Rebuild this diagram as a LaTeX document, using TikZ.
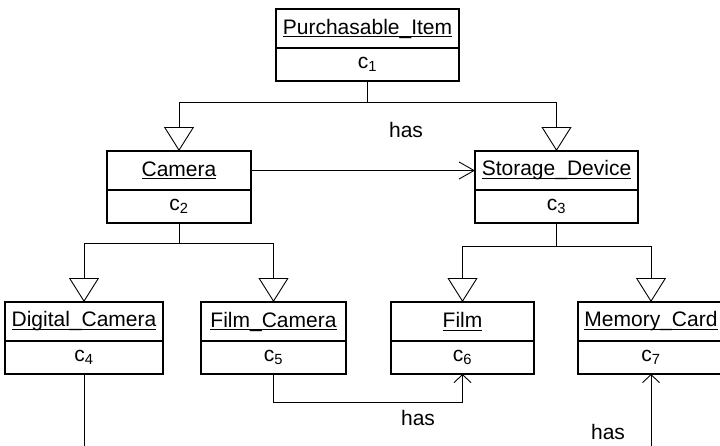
\documentclass[tikz,border=0pt]{standalone}
\usepackage{fontspec}
\setmainfont{Liberation Sans}
\usetikzlibrary{arrows.meta}
\newcommand\ulname[1]{\setbox0\hbox{#1}\rlap{\rule[-3pt]{\wd0}{1.1pt}}\box0}
\begin{document}
\begin{tikzpicture}[x=1pt,y=-1pt,
  namebox/.style={draw, line width=1.5pt, inner sep=0pt, outer sep=0pt, minimum height=39pt, font=\fontsize{21}{25}\selectfont},
  valbox/.style={draw, line width=1.5pt, inner sep=0pt, outer sep=0pt, minimum height=33pt, anchor=north, font=\fontsize{21}{25}\selectfont},
  lbl/.style={inner sep=0pt, font=\fontsize{21}{25}\selectfont},
  gen/.style={line width=0.9pt, -{Triangle[open, length=24pt, width=30pt, line width=0.9pt]}},
  assoctop/.style={line width=0.9pt, -{Straight Barb[length=15pt, width=17pt, line width=0.9pt]}},
  assoc/.style={line width=0.9pt, -{Straight Barb[length=8pt, width=17pt, line width=0.9pt]}}]
\fill[white] (0,0) rectangle (720,445);
\useasboundingbox (0,0) rectangle (720,445);
% classes
\node[namebox, minimum width=183pt] (pin) at (367.5,28.5) {\ulname{Purchasable\_Item}};
\node[valbox, minimum width=183pt] (piv) at (pin.south) {c\textsubscript{1}};
\node[namebox, minimum width=144pt] (camn) at (179,170.5) {\ulname{Camera}};
\node[valbox, minimum width=144pt] (camv) at (camn.south) {c\textsubscript{2}};
\node[namebox, minimum width=163pt] (sdn) at (556.5,170.5) {\ulname{Storage\_Device}};
\node[valbox, minimum width=163pt] (sdv) at (sdn.south) {c\textsubscript{3}};
\node[namebox, minimum width=158pt] (dcn) at (84,321.5) {\ulname{Digital\_Camera}};
\node[valbox, minimum width=158pt] (dcv) at (dcn.south) {c\textsubscript{4}};
\node[namebox, minimum width=145pt] (fcn) at (273.5,321.5) {\ulname{Film\_Camera}};
\node[valbox, minimum width=145pt] (fcv) at (fcn.south) {c\textsubscript{5}};
\node[namebox, minimum width=143pt] (fn) at (462.5,321.5) {\ulname{Film}};
\node[valbox, minimum width=143pt] (fv) at (fn.south) {c\textsubscript{6}};
\node[namebox, minimum width=146pt] (mcn) at (651,321.5) {\ulname{Memory\_Card}};
\node[valbox, minimum width=146pt] (mcv) at (mcn.south) {c\textsubscript{7}};
% generalisations
\draw[gen] (piv.south) -- ++(0,21) -| (camn.north);
\draw[gen] (piv.south) -- ++(0,21) -| (sdn.north);
\draw[gen] (camv.south) -- ++(0,20) -| (dcn.north);
\draw[gen] (camv.south) -- ++(0,20) -| (fcn.north);
\draw[gen] (sdv.south) -- ++(0,23) -| (fn.north);
\draw[gen] (sdv.south) -- ++(0,23) -| (mcn.north);
% associations
\draw[assoctop] (camn.east) -- (sdn.west);
\draw[assoc] (fcv.south) -- ++(0,28) -| (fv.south);
\coordinate (dcend) at (84,450);
\coordinate (mcend) at (651,450);
\draw[line width=0.9pt] (dcv.south) -- (dcend);
\draw[assoc] (mcend) -- (mcv.south);
% labels
\node[lbl] (has1) at (406,130) {has};
\node[lbl] (has2) at (418,418) {has};
\node[lbl] (has3) at (608,432) {has};
\end{tikzpicture}
\end{document}
